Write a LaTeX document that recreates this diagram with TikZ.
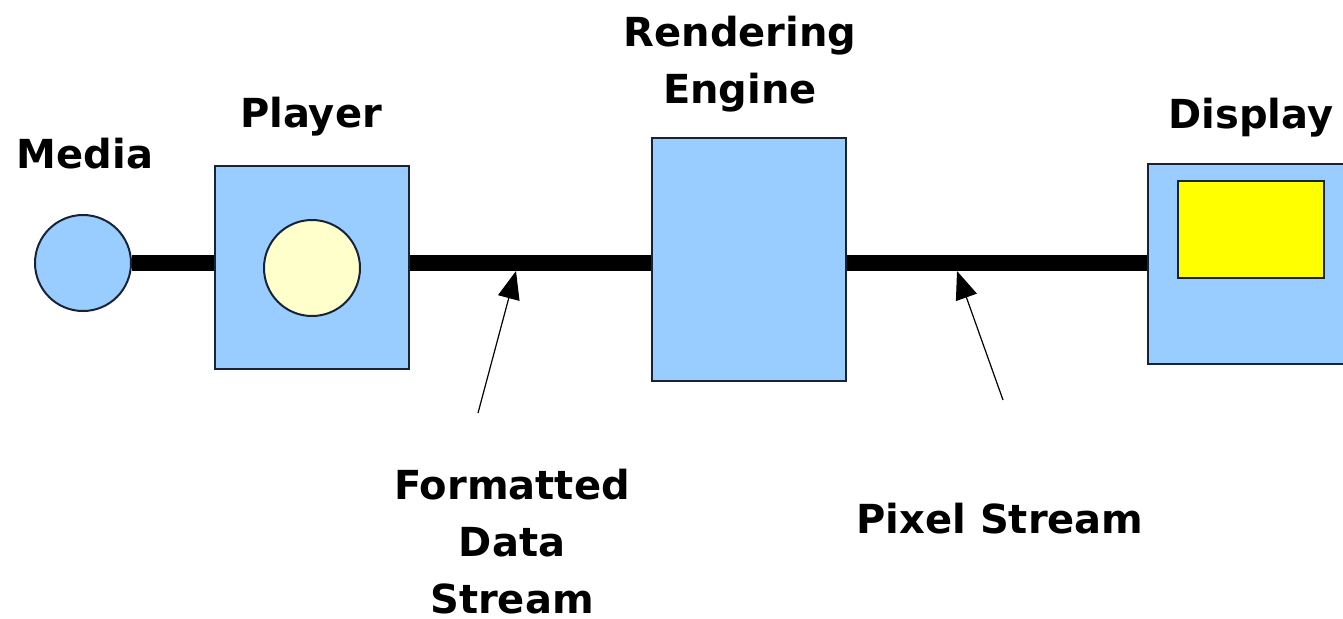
\documentclass[tikz,border=0pt]{standalone}
\usepackage{fontspec}
\setmainfont{DejaVu Sans}
\usetikzlibrary{arrows.meta}
\definecolor{boxblue}{RGB}{153,204,255}
\definecolor{palecream}{RGB}{255,255,204}
\definecolor{screenyellow}{RGB}{255,255,0}
\definecolor{edgenavy}{RGB}{25,35,55}
\tikzset{
  unit/.style={draw=edgenavy, line width=1pt, fill=boxblue, inner sep=0pt},
  caption/.style={font=\fontsize{20}{28.5}\selectfont\bfseries, inner sep=0pt, align=center},
  pipe/.style={line width=8pt},
  pointer/.style={line width=0.6pt, -{Triangle[length=14pt,width=11pt]}}
}
\begin{document}
\begin{tikzpicture}[x=0.5pt,y=-0.5pt]
            \useasboundingbox (0,0) rectangle (1343,618);
            % boxes
            \node[unit, circle, minimum size=48pt] (media) at (83,263) {};
            \node[unit, minimum width=97pt, minimum height=101.5pt] (player) at (312,267.5) {};
            \node[unit, circle, fill=palecream, minimum size=48pt] (disc) at (312,268) {};
            \node[unit, minimum width=97pt, minimum height=121.5pt] (render) at (749,259.5) {};
            \node[unit, minimum width=100pt, minimum height=100pt] (display) at (1248,264) {};
            \node[unit, fill=screenyellow, minimum width=73pt, minimum height=48.5pt] (screen) at (1251,229.5) {};
            % the stream
            \draw[pipe] (media.east) -- (media.east -| player.west);
            \draw[pipe] (media -| player.east) -- (media -| render.west);
            \draw[pipe] (media -| render.east) -- (media -| display.west);
            % labels
            \node[caption, anchor=base] (medialbl) at (85,168) {Media};
            \node[caption, anchor=base] (playerlbl) at (311,127) {Player};
            \node[caption] (renderlbl) at (740,64) {Rendering\\Engine};
            \node[caption, anchor=base] (displaylbl) at (1251,128) {Display};
            \node[caption] (fdslbl) at (512,542) {Formatted\\Data\\Stream};
            \node[caption, anchor=base] (pslbl) at (1000,533) {Pixel Stream};
            % pointers
            \coordinate (fdtail) at (478,413);
            \coordinate (fdtip) at (516,271);
            \coordinate (pstail) at (1003,400);
            \coordinate (pstip) at (957,271);
            \draw[pointer] (fdtail) -- (fdtip);
            \draw[pointer] (pstail) -- (pstip);
        \end{tikzpicture}
\end{document}
